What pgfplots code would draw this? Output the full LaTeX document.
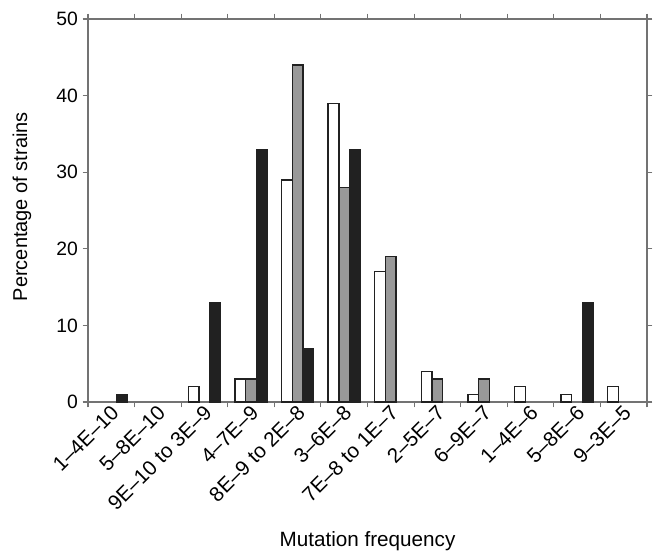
\documentclass[border=0pt]{standalone}
\usepackage{pgfplots}
\pgfplotsset{compat=1.18}
\usepackage{fontspec}
\setmainfont{Liberation Sans}
\definecolor{framegray}{gray}{0.45}
\definecolor{bargray}{gray}{0.6}
\definecolor{bardark}{gray}{0.13}
\begin{document}
\begin{tikzpicture}
\useasboundingbox (-66pt,-114pt) rectangle (426pt,301.5pt);
\begin{axis}[
  at={(0,0)}, anchor=south west,
  scale only axis,
  width=419.25pt, height=287.25pt,
  xmin=-0.5, xmax=11.5,
  ymin=0, ymax=50,
  ytick={0,10,...,50},
  xtick={0,...,11},
  xticklabels={1--4E--10,5--8E--10,9E--10 to 3E--9,4--7E--9,8E--9 to 2E--8,3--6E--8,7E--8 to 1E--7,2--5E--7,6--9E--7,1--4E--6,5--8E--6,9--3E--5},
  x tick label style={rotate=45, anchor=east, font=\fontsize{15.5}{17}\selectfont, inner sep=1pt, yshift=-3pt, xshift=2pt},
  y tick label style={font=\fontsize{14.5}{16}\selectfont},
  /pgf/number format/assume math mode=true,
  major x tick style={draw=none},
  minor xtick={-0.5,0.5,...,11.5},
  tick align=outside,
  tick style={framegray, line width=0.8pt},
  major tick length=4pt,
  minor tick length=4pt,
  axis line style={framegray, line width=1pt},
  xlabel={Mutation frequency},
  ylabel={Percentage of strains},
  xlabel style={font=\fontsize{15.5}{17}\selectfont, at={(0.5,0)}, anchor=center, yshift=-104pt},
  ylabel style={font=\fontsize{15}{17}\selectfont, at={(0,0.51)}, anchor=center, yshift=49.5pt},
  ybar, bar width=0.23,
  every axis plot/.append style={draw=bardark, line width=1pt},
  clip=false,
]
\addplot[fill=white, bar shift=-0.23] coordinates {(2,2) (3,3) (4,29) (5,39) (6,17) (7,4) (8,1) (9,2) (10,1) (11,2)};
\addplot[fill=bargray, bar shift=0] coordinates {(3,3) (4,44) (5,28) (6,19) (7,3) (8,3)};
\addplot[fill=bardark, bar shift=0.23] coordinates {(0,1) (2,13) (3,33) (4,7) (5,33) (10,13)};
\end{axis}
\end{tikzpicture}
\end{document}
